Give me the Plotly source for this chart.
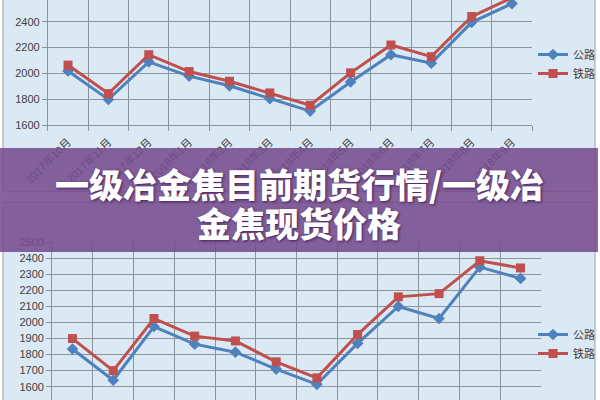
import plotly.graph_objects as go

months = ["2017年10月", "2017年11月", "2017年12月", "2018年1月", "2018年2月", "2018年3月",
          "2018年4月", "2018年5月", "2018年6月", "2018年7月", "2018年8月", "2018年9月"]
series_names = ["公路", "铁路"]
top_road = [2020, 1800, 2090, 1980, 1905, 1805, 1710, 1935, 2145, 2080, 2395, 2540]
top_rail = [2065, 1845, 2145, 2015, 1940, 1850, 1755, 2005, 2220, 2130, 2440, 2585]
bot_road = [1835, 1640, 1975, 1865, 1815, 1710, 1615, 1870, 2100, 2025, 2345, 2275]
bot_rail = [1900, 1700, 2025, 1915, 1885, 1755, 1655, 1925, 2160, 2180, 2385, 2340]
title_lines = ["一级冶金焦目前期货行情/一级冶", "金焦现货价格"]

BLUE = "#4f81bd"
RED = "#c0504d"
BG = "#dbe9f4"
GRID = "#8c949c"
TXT = "#404040"
FONT = "Liberation Sans, Noto Sans CJK SC, sans-serif"

fig = go.Figure()

def add_pair(road, rail, xa, ya, leg):
    fig.add_trace(go.Scatter(x=months, y=road, name=series_names[0], mode="lines+markers",
                             xaxis=xa, yaxis=ya, legend=leg, cliponaxis=False,
                             line=dict(color=BLUE, width=3),
                             marker=dict(symbol="diamond", size=9, color=BLUE)))
    fig.add_trace(go.Scatter(x=months, y=rail, name=series_names[1], mode="lines+markers",
                             xaxis=xa, yaxis=ya, legend=leg, cliponaxis=False,
                             line=dict(color=RED, width=3),
                             marker=dict(symbol="square", size=9, color=RED)))

add_pair(top_road, top_rail, "x", "y", "legend")
add_pair(bot_road, bot_rail, "x2", "y2", "legend2")

xcommon = dict(type="category", range=[-0.5, 11.5], tickson="boundaries", showgrid=True,
               gridcolor=GRID, gridwidth=1, showline=True, linecolor=GRID, linewidth=1,
               ticks="outside", ticklen=5, tickcolor=GRID, zeroline=False,
               tickfont=dict(family=FONT, size=11, color=TXT), automargin=False)
ycommon = dict(showgrid=True, gridcolor=GRID, gridwidth=1, showline=True, linecolor=GRID,
               linewidth=1, ticks="outside", ticklen=5, tickcolor=GRID, zeroline=False,
               tickfont=dict(family=FONT, size=11, color=TXT), automargin=False)

fig.update_layout(
    width=600, height=400, margin=dict(l=0, r=0, t=0, b=0),
    paper_bgcolor="white", plot_bgcolor=BG,
    xaxis=dict(domain=[48 / 600, 534 / 600], anchor="y", tickangle=-45,
               ticklabelstandoff=5, **xcommon),
    yaxis=dict(domain=[1 - 125.3 / 400, 1], anchor="x", range=[1600, 2567.6],
               tick0=1600, dtick=200, **ycommon),
    xaxis2=dict(domain=[52.3 / 600, 542.7 / 600], anchor="y2", showticklabels=False, **xcommon),
    yaxis2=dict(domain=[0, 1 - 242.3 / 400], anchor="x2", range=[1517, 2500],
                tick0=1500, dtick=100, **ycommon),
    legend=dict(x=535 / 600, y=1 - 40 / 400, xanchor="left", yanchor="top",
                bgcolor="rgba(0,0,0,0)", font=dict(family=FONT, size=11, color=TXT),
                tracegroupgap=0, itemwidth=30),
    legend2=dict(x=535 / 600, y=1 - 320 / 400, xanchor="left", yanchor="top",
                 bgcolor="rgba(0,0,0,0)", font=dict(family=FONT, size=11, color=TXT),
                 tracegroupgap=0, itemwidth=30),
    showlegend=True,
)

shapes = [
    dict(type="rect", xref="paper", yref="paper", x0=3 / 600, x1=597 / 600,
         y0=1 - 191.7 / 400, y1=1.05, fillcolor=BG, line=dict(color="#9aa0a6", width=1),
         layer="below"),
    dict(type="rect", xref="paper", yref="paper", x0=3 / 600, x1=597 / 600,
         y0=-0.05, y1=1 - 202 / 400, fillcolor=BG, line=dict(color="#9aa0a6", width=1),
         layer="below"),
    dict(type="rect", xref="paper", yref="paper", x0=0, x1=1,
         y0=1 - 252 / 400, y1=1 - 148 / 400, fillcolor="rgba(118,76,142,0.88)",
         line=dict(width=0), layer="above"),
]
fig.update_layout(shapes=shapes)

tfont = dict(family="Noto Sans CJK SC, sans-serif", size=34, color="white", weight=900,
             shadow="1px 1px 3px rgba(40,0,60,0.7)")
fig.add_annotation(x=0.5, y=1 - 183 / 400, xref="paper", yref="paper", text=title_lines[0],
                   showarrow=False, font=tfont, xanchor="center", yanchor="middle")
fig.add_annotation(x=0.5, y=1 - 222 / 400, xref="paper", yref="paper", text=title_lines[1],
                   showarrow=False, font=tfont, xanchor="center", yanchor="middle")

fig.write_html("out.html", config={"displayModeBar": False},
               post_script="document.body.style.margin='0';document.body.style.overflow='hidden';")
